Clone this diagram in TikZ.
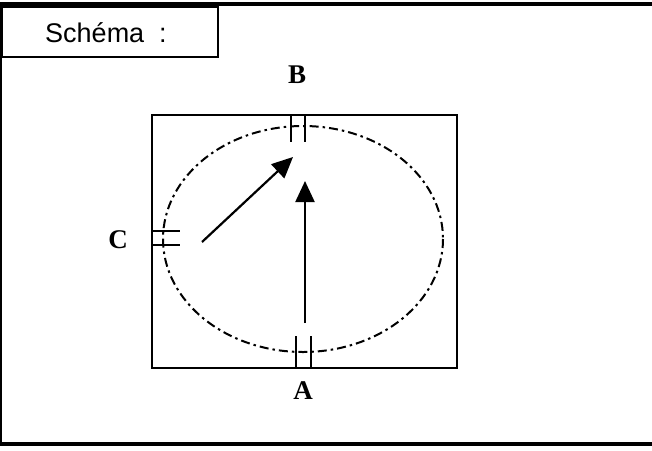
\documentclass[tikz,border=0pt]{standalone}
\usepackage{fontspec}
\setmainfont{Liberation Serif}
\setsansfont{Liberation Sans}
\usetikzlibrary{arrows.meta, positioning}

\begin{document}
\begin{tikzpicture}[x=1pt, y=-1pt,
      frame/.style={line width=1.8pt},
      port/.style={line width=2pt},
      lab/.style={font=\fontsize{27}{30}\selectfont\bfseries},
      flow/.style={line width=2.2pt, -{Triangle[length=21pt, width=19pt]}}]
    \useasboundingbox (0,0) rectangle (652,450);
    % outer sheet
    \draw[line width=4pt] (0,4) -- (652,4);
    \draw[line width=4pt] (0,444) -- (652,444);
    \draw[line width=1.2pt] (1,4) -- (1,444);
    % title box
    \draw[frame] (2,7) rectangle (218,57);
    \node[font=\sffamily\fontsize{27}{30}\selectfont] (title) at (106,33) {Sch\'ema\ \ :};
    % machine outline and path
    \draw[frame] (152,115) rectangle (457,368);
    \draw[line width=2pt, dash pattern=on 9pt off 4pt on 2.5pt off 4pt]
      (303,239) ellipse [x radius=140, y radius=113];
    % ports
    \draw[port] (291,115) -- (291,142) (305,115) -- (305,142);
    \draw[port] (296,336) -- (296,368) (311,336) -- (311,368);
    \draw[port] (152,231) -- (180,231) (152,245) -- (180,245);
    \node[lab] (labB) at (297,75)  {B};
    \node[lab] (labA) at (303,391) {A};
    \node[lab] (labC) at (118,240) {C};
    % arrows
    \coordinate (vtail) at (305,323);
    \coordinate (vhead) at (305,181);
    \coordinate (dtail) at (202,242);
    \coordinate (dhead) at (293,157);
    \draw[flow] (vtail) -- (vhead);
    \draw[flow] (dtail) -- (dhead);
  \end{tikzpicture}
\end{document}
